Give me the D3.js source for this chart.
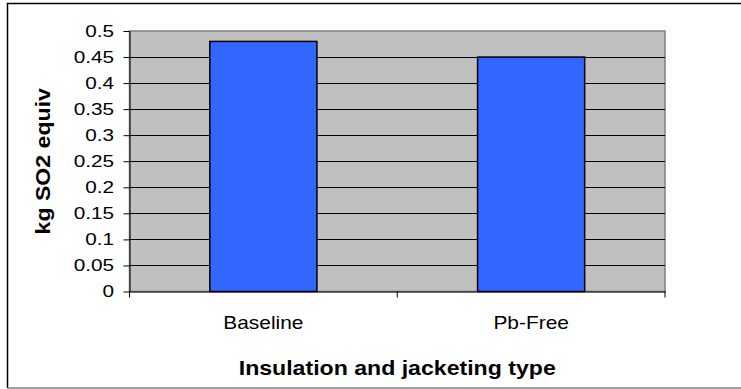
<!DOCTYPE html>
<html>
<head>
<meta charset="utf-8">
<script src="https://cdn.jsdelivr.net/npm/d3@7"></script>
<style>
  body { margin: 0; background: white; }
  text { font-family: Arial, "Liberation Sans", sans-serif; }
</style>
</head>
<body>
<div class="chart"></div>
<script>
var categories = ["Baseline", "Pb-Free"];
var values = [0.48, 0.45];
var yTicks = [0, 0.05, 0.1, 0.15, 0.2, 0.25, 0.3, 0.35, 0.4, 0.45, 0.5];

var svgWidth = 741;
var svgHeight = 389;

var margin = {
  top: 31,
  bottom: 97.5,
  right: 76,
  left: 129.5,
};

var width = svgWidth - margin.left - margin.right;
var height = svgHeight - margin.top - margin.bottom;

// the original text is a little wider than plain Arial
function stretch(sel, k) {
  sel
    .attr("textLength", function () {
      return this.getComputedTextLength() * k;
    })
    .attr("lengthAdjust", "spacingAndGlyphs");
}

var svg = d3
  .select(".chart")
  .append("svg")
  .attr("width", svgWidth)
  .attr("height", svgHeight);

// chart area border (cut off on the right like the original)
svg
  .append("path")
  .attr("d", "M760,3.5 H7.5 V388")
  .attr("fill", "none")
  .attr("stroke", "black")
  .attr("stroke-width", 1.5);
svg
  .append("line")
  .attr("x1", 7.5)
  .attr("x2", 760)
  .attr("y1", 388)
  .attr("y2", 388)
  .attr("stroke", "#808080")
  .attr("stroke-width", 1.5);

var chartGroup = svg
  .append("g")
  .attr("transform", `translate(${margin.left}, ${margin.top})`);

var x = d3
  .scaleBand()
  .domain(categories)
  .range([0, width])
  .paddingInner(0.6)
  .paddingOuter(0.3);

var y = d3.scaleLinear().domain([0, 0.5]).range([height, 0]);

// plot area
chartGroup
  .append("rect")
  .attr("width", width)
  .attr("height", height)
  .attr("fill", "#C0C0C0")
  .attr("stroke", "#808080")
  .attr("stroke-width", 1.5);

// gridlines
chartGroup
  .selectAll(".grid")
  .data(yTicks.filter((d) => d > 0 && d < 0.5))
  .join("line")
  .attr("class", "grid")
  .attr("x1", 0)
  .attr("x2", width)
  .attr("y1", (d) => Math.round(y(d)) + 0.5)
  .attr("y2", (d) => Math.round(y(d)) + 0.5)
  .attr("stroke", "black")
  .attr("stroke-width", 1);

// bars
chartGroup
  .selectAll(".bar")
  .data(values)
  .join("rect")
  .attr("class", "bar")
  .attr("x", (d, i) => x(categories[i]))
  .attr("y", (d) => y(d))
  .attr("width", x.bandwidth())
  .attr("height", (d) => height - y(d))
  .attr("fill", "#3366FF")
  .attr("stroke", "black")
  .attr("stroke-width", 1.5);

// y axis
var yAxis = d3
  .axisLeft(y)
  .tickValues(yTicks)
  .tickFormat(d3.format("~g"))
  .tickSize(6)
  .tickSizeOuter(0)
  .tickPadding(9.5);

chartGroup
  .append("g")
  .attr("class", "y-axis")
  .call(yAxis)
  .call((g) => g.selectAll("line,path").attr("stroke", "black"))
  .selectAll("text")
  .style("font-size", "17px")
  .attr("fill", "black")
  .call(stretch, 1.22);

// x axis: ticks sit on the category boundaries
var xAxis = d3
  .axisBottom(x)
  .tickSize(0)
  .tickSizeOuter(0);

chartGroup
  .append("g")
  .attr("class", "x-axis")
  .attr("transform", `translate(0, ${height})`)
  .call(xAxis)
  .call((g) => g.select("path").attr("stroke", "black"))
  .selectAll("text")
  .attr("y", 37)
  .attr("dy", null)
  .style("font-size", "19px")
  .attr("fill", "black")
  .call(stretch, 1.1);

chartGroup
  .append("g")
  .selectAll("line")
  .data([0, 1, 2])
  .join("line")
  .attr("x1", (d) => (d * width) / 2)
  .attr("x2", (d) => (d * width) / 2)
  .attr("y1", height)
  .attr("y2", height + 6)
  .attr("stroke", "black");

// axis titles
svg
  .append("text")
  .attr("x", margin.left + width / 2)
  .attr("y", 374.5)
  .style("text-anchor", "middle")
  .style("font-size", "21px")
  .style("font-weight", "bold")
  .text("Insulation and jacketing type")
  .call(stretch, 1.1);

svg
  .append("text")
  .attr("transform", "rotate(-90)")
  .attr("x", -(margin.top + height / 2))
  .attr("y", 50)
  .style("text-anchor", "middle")
  .style("font-size", "21px")
  .style("font-weight", "bold")
  .text("kg SO2 equiv")
  .call(stretch, 1.1);
</script>
</body>
</html>
